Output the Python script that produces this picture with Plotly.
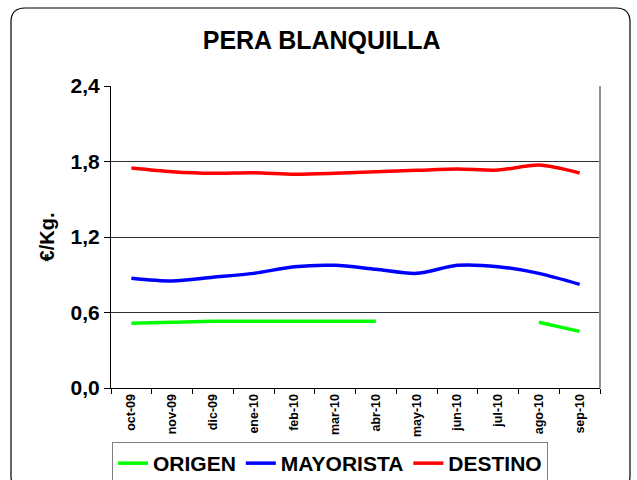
import plotly.graph_objects as go

months = ["oct-09", "nov-09", "dic-09", "ene-10", "feb-10", "mar-10",
          "abr-10", "may-10", "jun-10", "jul-10", "ago-10", "sep-10"]
origen = [0.514, 0.522, 0.530, 0.530, 0.530, 0.530, 0.530,
          None, None, None, 0.522, 0.450]
mayorista = [0.872, 0.850, 0.880, 0.911, 0.964, 0.975, 0.943,
             0.911, 0.975, 0.964, 0.911, 0.824]
destino = [1.748, 1.719, 1.706, 1.711, 1.698, 1.706, 1.719,
           1.730, 1.740, 1.732, 1.772, 1.709]

FONT = "Liberation Sans, Arial, sans-serif"

fig = go.Figure()
for name, vals, color in [("ORIGEN", origen, "#00ff00"),
                          ("MAYORISTA", mayorista, "#0000ff"),
                          ("DESTINO", destino, "#ff0000")]:
    fig.add_trace(go.Scatter(
        x=months, y=vals, name=f"<b>{name}</b>", mode="lines",
        line=dict(color=color, width=3.5, shape="spline", smoothing=0.8),
        connectgaps=False,
    ))

W, H = 637, 480
ml, mr, mt, mb = 111, 37, 86, 92
pw, ph = W - ml - mr, H - mt - mb


def px_x(p):
    return (p - ml) / pw


def px_y(p):
    return (H - mb - p) / ph


# rounded frame around the whole chart
x0, x1, y0, y1, r = 11, 630, 8, 490, 14
path = (f"M {px_x(x0 + r)},{px_y(y0)} L {px_x(x1 - r)},{px_y(y0)} "
        f"Q {px_x(x1)},{px_y(y0)} {px_x(x1)},{px_y(y0 + r)} "
        f"L {px_x(x1)},{px_y(y1 - r)} "
        f"Q {px_x(x1)},{px_y(y1)} {px_x(x1 - r)},{px_y(y1)} "
        f"L {px_x(x0 + r)},{px_y(y1)} "
        f"Q {px_x(x0)},{px_y(y1)} {px_x(x0)},{px_y(y1 - r)} "
        f"L {px_x(x0)},{px_y(y0 + r)} "
        f"Q {px_x(x0)},{px_y(y0)} {px_x(x0 + r)},{px_y(y0)} Z")

fig.update_layout(
    width=W, height=H,
    margin=dict(l=ml, r=mr, t=mt, b=mb, pad=0, autoexpand=False),
    paper_bgcolor="white", plot_bgcolor="white",
    font=dict(family=FONT, color="black"),
    title=dict(text="<b>PERA BLANQUILLA</b>", x=0.505, xanchor="center",
               y=1 - 40 / H, yanchor="middle",
               font=dict(size=25, family=FONT, color="black")),
    showlegend=True,
    legend=dict(orientation="h", x=px_x(112), xanchor="left",
                y=px_y(442), yanchor="top",
                bordercolor="#808080", borderwidth=1,
                font=dict(size=21, family=FONT, color="black"),
                itemwidth=30, tracegroupgap=0,
                traceorder="normal"),
    shapes=[
        dict(type="path", path=path, xref="paper", yref="paper",
             line=dict(color="black", width=1.2), layer="below"),
        dict(type="line", xref="paper", yref="paper",
             x0=1, x1=1, y0=0, y1=1,
             line=dict(color="#909090", width=2)),
    ],
)

fig.update_xaxes(
    type="category", range=[-0.5, 11.5], automargin=False,
    tickangle=-90, tickfont=dict(size=12.5, family=FONT, color="black"),
    tickprefix="<b>", ticksuffix="</b>",
    ticks="outside", ticklen=5, tickcolor="black",
    tickson="boundaries",
    showline=True, linecolor="black", linewidth=1,
    showgrid=False, zeroline=False,
)
fig.update_yaxes(
    range=[0, 2.4], tickvals=[0, 0.6, 1.2, 1.8, 2.4], automargin=False,
    ticktext=["<b>0,0</b>", "<b>0,6</b>", "<b>1,2</b>", "<b>1,8</b>", "<b>2,4</b>"],
    tickfont=dict(size=21, family=FONT, color="black"),
    ticks="outside", ticklen=6, tickcolor="black",
    showline=True, linecolor="black", linewidth=1,
    showgrid=True, gridcolor="#303030", gridwidth=1,
    zeroline=False,
    title=dict(text="<b>€/Kg.</b>", font=dict(size=20, family=FONT, color="black"),
               standoff=10),
)

fig.write_html("out.html")
